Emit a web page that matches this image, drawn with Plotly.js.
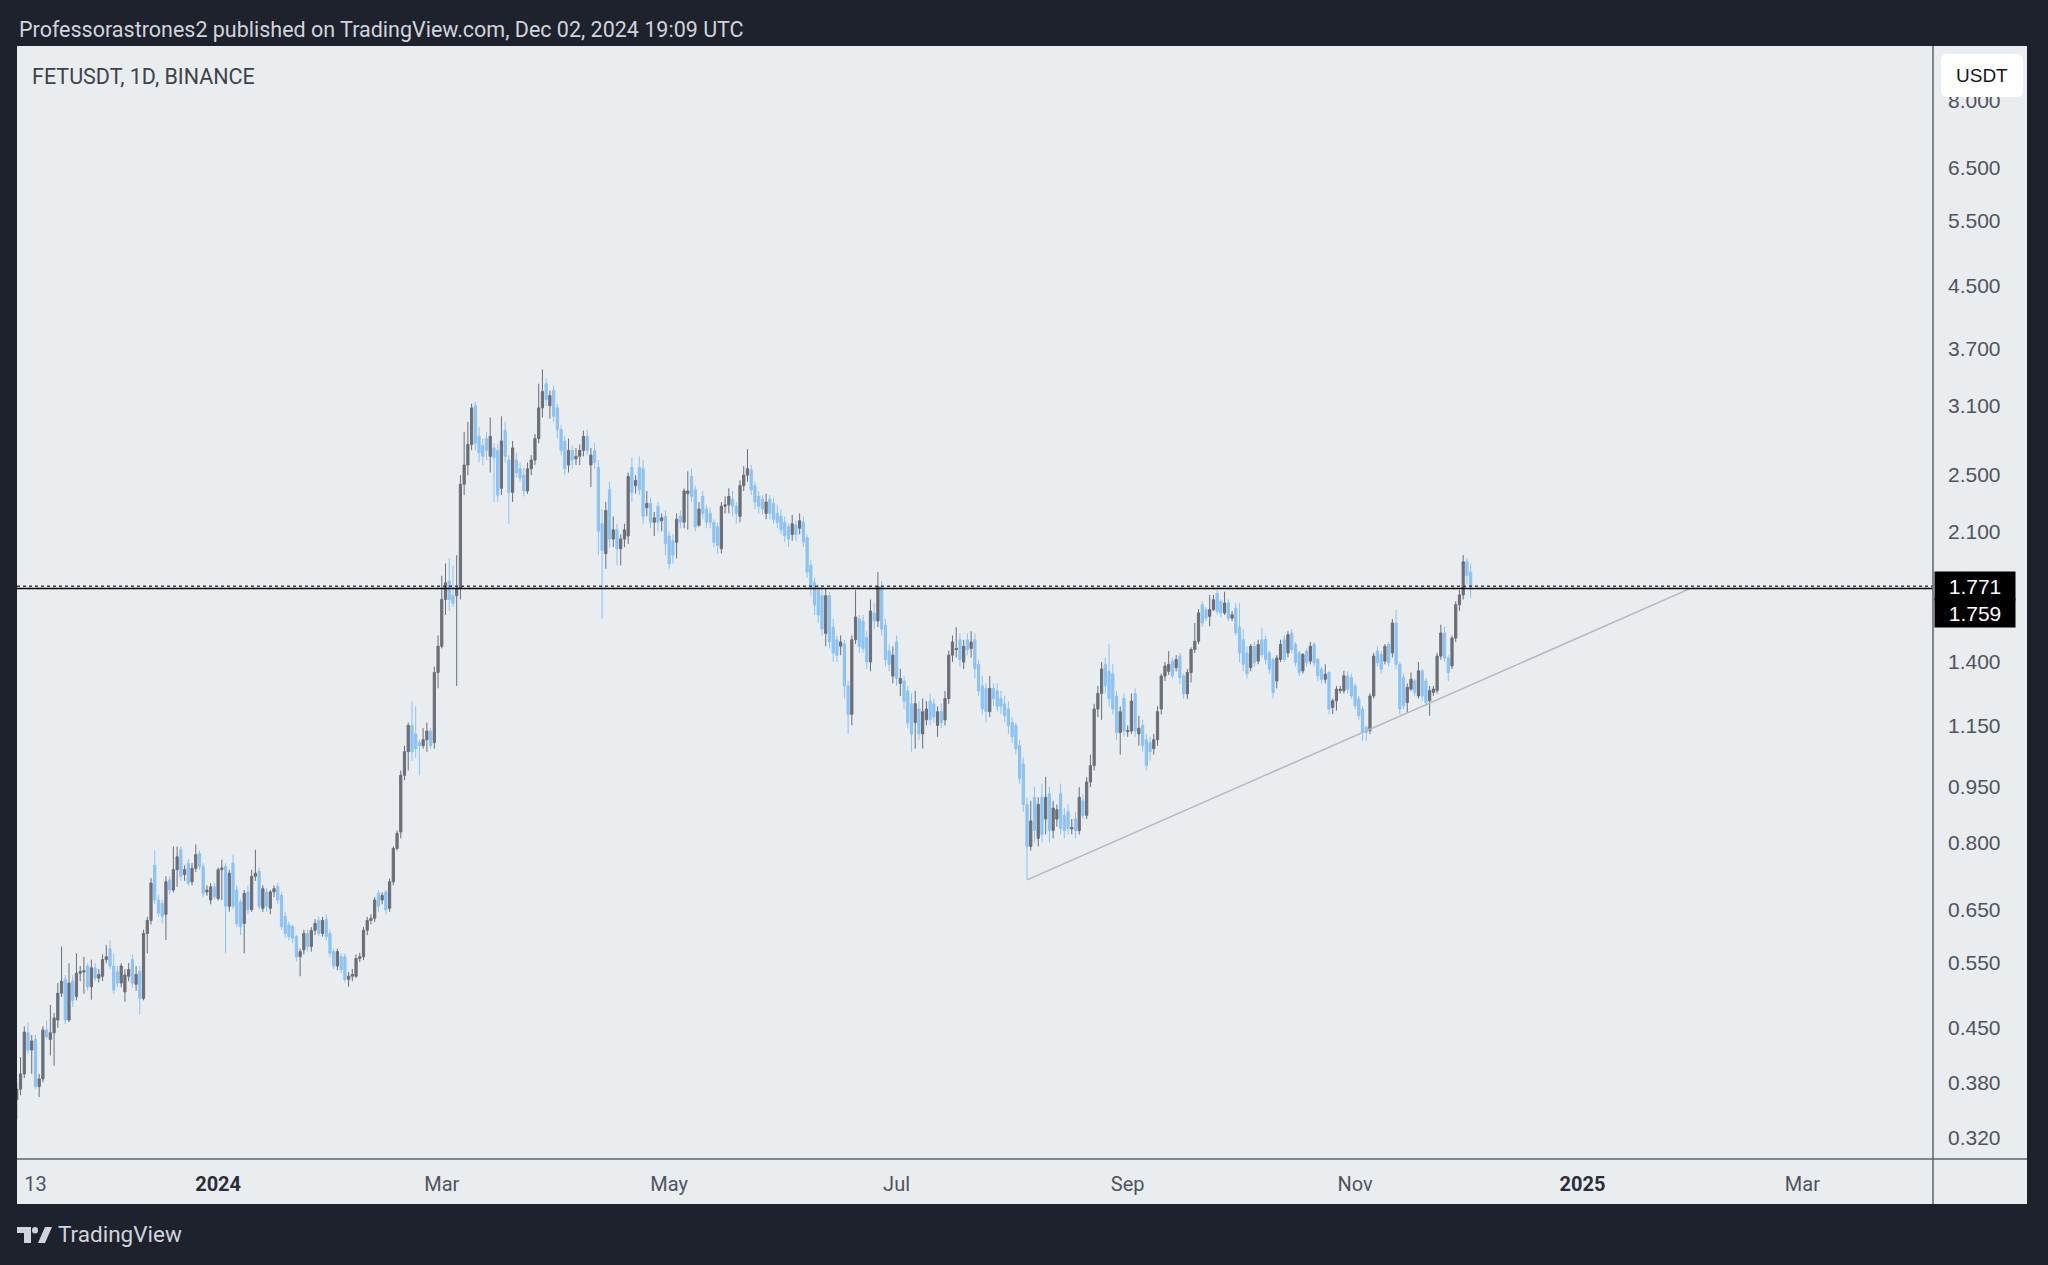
<!DOCTYPE html>
<html>
<head>
<meta charset="utf-8">
<script src="https://cdn.plot.ly/plotly-3.0.1.min.js"></script>
<style>
html,body{margin:0;padding:0;background:#1e222d;}
#chart{width:2048px;height:1265px;}
</style>
</head>
<body>
<div id="chart"></div>
<script>
// ---------------- DATA (FETUSDT, 1D, BINANCE) ----------------
// first candle date; one candle per day
const firstDay = [2023, 10, 8]; // 2023-11-08 (month 0-based)

const openP = [
 .360,.372,.390,.443,.420,.434,.375,.384,.447,.434,
 .443,.461,.501,.523,.461,.520,.496,.533,.535,.545,
 .511,.542,.525,.528,.556,.575,.545,.535,.517,.503,
 .528,.556,.515,.536,.493,.603,.628,.745,.669,.662,
 .640,.712,.690,.735,.782,.724,.750,.708,.738,.773,
 .742,.686,.669,.697,.672,.735,.742,.656,.750,.690,
 .665,.622,.686,.649,.720,.731,.652,.686,.652,.686,
 .697,.679,.636,.619,.616,.597,.561,.573,.603,.579,
 .609,.628,.603,.630,.603,.570,.545,.561,.561,.523,
 .528,.528,.558,.561,.609,.628,.632,.683,.669,.686,
 .652,.708,.785,.826,.985,1.06,1.15,1.12,1.09,1.08,
 1.10,1.13,1.09,1.355,1.47,1.70,1.80,1.72,1.72,1.76,
 2.43,2.58,2.75,3.10,2.82,2.74,2.80,2.65,2.72,2.70,
 2.40,2.87,2.62,2.37,2.62,2.55,2.50,2.38,2.55,2.62,
 2.80,3.08,3.32,3.10,3.25,3.08,2.88,2.78,2.58,2.70,
 2.63,2.65,2.70,2.82,2.58,2.70,2.56,2.15,1.96,2.39,
 2.05,2.11,1.99,2.05,2.07,2.56,2.42,2.56,2.55,2.26,
 2.29,2.16,2.27,2.17,2.20,2.07,2.04,2.03,2.20,2.16,
 2.36,2.49,2.39,2.14,2.34,2.25,2.22,2.16,2.13,1.99,
 2.27,2.28,2.32,2.27,2.20,2.42,2.50,2.54,2.42,2.34,
 2.32,2.22,2.32,2.29,2.22,2.20,2.16,2.13,2.08,2.14,
 2.12,2.16,2.06,1.89,1.79,1.75,1.72,1.53,1.72,1.56,
 1.50,1.47,1.48,1.30,1.19,1.50,1.60,1.59,1.51,1.40,
 1.63,1.59,1.77,1.57,1.45,1.34,1.49,1.31,1.32,1.28,
 1.23,1.16,1.21,1.12,1.17,1.24,1.23,1.15,1.20,1.17,
 1.25,1.43,1.455,1.50,1.40,1.50,1.46,1.50,1.39,1.30,
 1.29,1.20,1.29,1.28,1.25,1.23,1.21,1.16,1.15,1.08,
 1.02,.90,.79,.92,.81,.92,.86,.93,.83,.86,
 .93,.87,.88,.834,.86,.83,.91,.87,.965,1.015,
 1.21,1.27,1.39,1.36,1.35,1.26,1.125,1.25,1.128,1.13,
 1.27,1.12,1.15,1.10,1.09,1.07,1.10,1.21,1.34,1.36,
 1.404,1.376,1.426,1.341,1.268,1.355,1.455,1.493,1.672,1.647,
 1.613,1.647,1.733,1.689,1.63,1.681,1.604,1.655,1.56,1.50,
 1.44,1.376,1.47,1.404,1.50,1.501,1.44,1.411,1.32,1.411,
 1.501,1.44,1.532,1.478,1.44,1.362,1.448,1.404,1.478,1.411,
 1.369,1.327,1.355,1.216,1.241,1.281,1.281,1.341,1.334,1.30,
 1.248,1.21,1.143,1.131,1.26,1.448,1.433,1.404,1.478,1.44,
 1.58,1.39,1.334,1.235,1.287,1.32,1.26,1.362,1.32,1.241,
 1.274,1.281,1.426,1.532,1.418,1.383,1.508,1.672,1.724,1.911,
 1.85
];
const highP = [
 .380,.411,.452,.458,.440,.440,.390,.452,.460,.483,
 .471,.517,.579,.530,.550,.530,.567,.545,.561,.550,
 .556,.550,.540,.565,.582,.590,.567,.545,.550,.540,
 .550,.565,.545,.545,.610,.635,.716,.780,.680,.670,
 .720,.720,.790,.790,.790,.745,.760,.750,.795,.780,
 .750,.700,.705,.705,.740,.758,.750,.735,.770,.700,
 .670,.690,.700,.735,.782,.740,.700,.695,.690,.700,
 .705,.685,.645,.625,.620,.600,.575,.610,.610,.615,
 .630,.635,.635,.640,.610,.575,.575,.567,.567,.535,
 .540,.565,.568,.615,.635,.640,.675,.690,.685,.690,
 .715,.790,.830,1.00,1.08,1.16,1.24,1.22,1.10,1.14,
 1.16,1.14,1.38,1.52,1.83,1.90,1.93,1.89,1.95,2.50,
 2.86,2.95,3.12,3.14,2.90,2.80,2.86,2.99,2.76,2.75,
 3.00,2.95,2.66,2.78,2.68,2.60,2.56,2.60,2.66,2.84,
 3.32,3.47,3.38,3.25,3.30,3.12,2.92,2.82,2.80,2.74,
 2.72,2.75,2.87,2.88,2.72,2.76,2.62,2.25,2.30,2.45,
 2.20,2.15,2.08,2.15,2.52,2.64,2.50,2.65,2.62,2.38,
 2.33,2.23,2.30,2.22,2.24,2.10,2.08,2.22,2.24,2.40,
 2.53,2.55,2.42,2.30,2.38,2.28,2.26,2.18,2.16,2.30,
 2.34,2.40,2.38,2.30,2.46,2.57,2.71,2.58,2.45,2.38,
 2.35,2.36,2.35,2.33,2.28,2.25,2.20,2.15,2.21,2.17,
 2.22,2.20,2.08,1.92,1.82,1.78,1.76,1.76,1.74,1.60,
 1.52,1.52,1.50,1.32,1.52,1.75,1.62,1.62,1.54,1.70,
 1.68,1.85,1.80,1.60,1.48,1.47,1.52,1.37,1.34,1.30,
 1.27,1.28,1.24,1.25,1.24,1.27,1.25,1.22,1.23,1.28,
 1.45,1.52,1.56,1.53,1.50,1.53,1.54,1.53,1.41,1.34,
 1.31,1.34,1.31,1.31,1.28,1.26,1.24,1.18,1.16,1.10,
 1.04,.92,.91,.95,.92,.96,.98,.95,.91,.90,
 .96,.89,.90,.86,.88,.95,.93,.98,1.05,1.23,
 1.30,1.40,1.42,1.48,1.39,1.28,1.22,1.27,1.15,1.27,
 1.29,1.185,1.17,1.12,1.11,1.12,1.22,1.35,1.40,1.448,
 1.42,1.43,1.44,1.35,1.37,1.465,1.58,1.65,1.69,1.66,
 1.724,1.724,1.75,1.70,1.741,1.70,1.64,1.681,1.68,1.55,
 1.47,1.48,1.49,1.50,1.556,1.52,1.45,1.42,1.43,1.50,
 1.52,1.54,1.55,1.49,1.45,1.44,1.46,1.49,1.49,1.42,
 1.38,1.39,1.36,1.25,1.30,1.30,1.362,1.36,1.35,1.31,
 1.26,1.22,1.15,1.27,1.44,1.47,1.45,1.48,1.49,1.60,
 1.647,1.40,1.35,1.31,1.355,1.33,1.40,1.37,1.33,1.30,
 1.30,1.44,1.572,1.564,1.43,1.52,1.69,1.75,1.951,1.93,
 1.90
];
const lowP = [
 .339,.365,.385,.415,.390,.372,.363,.380,.435,.413,
 .400,.450,.495,.455,.458,.480,.490,.520,.500,.505,
 .491,.520,.518,.520,.550,.540,.500,.510,.510,.488,
 .520,.510,.505,.469,.490,.567,.620,.660,.635,.622,
 .591,.680,.685,.697,.710,.710,.700,.700,.730,.735,
 .675,.678,.660,.670,.668,.669,.567,.645,.650,.615,
 .600,.567,.640,.645,.710,.650,.645,.645,.640,.675,
 .660,.610,.595,.590,.585,.553,.528,.565,.570,.570,
 .600,.598,.597,.590,.560,.540,.538,.533,.518,.511,
 .520,.525,.552,.555,.600,.620,.625,.645,.660,.640,
 .645,.700,.780,.810,.970,1.00,1.03,1.04,.985,1.07,
 1.06,1.07,1.07,1.29,1.46,1.62,1.64,1.66,1.30,1.70,
 2.35,2.50,2.70,2.70,2.60,2.58,2.62,2.52,2.30,2.30,
 2.35,2.60,2.15,2.30,2.48,2.45,2.34,2.36,2.50,2.58,
 2.76,2.99,3.10,2.98,2.95,2.80,2.66,2.50,2.52,2.55,
 2.58,2.58,2.65,2.66,2.41,2.55,1.95,1.60,1.87,2.00,
 2.00,1.89,1.89,2.00,2.02,2.30,2.36,2.35,2.15,2.20,
 2.12,2.07,2.10,2.10,1.95,1.87,1.90,1.93,2.12,2.12,
 2.11,2.30,2.10,2.13,2.18,2.12,2.12,2.00,1.96,1.96,
 2.22,2.22,2.20,2.15,2.16,2.38,2.45,2.35,2.25,2.22,
 2.21,2.18,2.18,2.15,2.12,2.08,2.03,2.00,2.04,2.04,
 2.08,2.00,1.82,1.72,1.62,1.58,1.52,1.47,1.46,1.40,
 1.40,1.43,1.25,1.12,1.15,1.48,1.44,1.44,1.37,1.36,
 1.55,1.56,1.52,1.38,1.36,1.31,1.30,1.26,1.21,1.14,
 1.06,1.07,1.10,1.07,1.15,1.15,1.16,1.11,1.14,1.15,
 1.23,1.40,1.42,1.38,1.37,1.43,1.42,1.33,1.26,1.19,
 1.16,1.18,1.22,1.20,1.19,1.16,1.12,1.09,1.05,.96,
 .88,.712,.78,.80,.79,.80,.82,.80,.81,.84,
 .82,.81,.82,.82,.81,.82,.86,.86,.95,1.00,
 1.18,1.17,1.27,1.22,1.19,1.10,1.05,1.11,1.11,1.12,
 1.11,1.08,1.06,1.00,1.03,1.05,1.08,1.19,1.32,1.345,
 1.33,1.36,1.307,1.248,1.248,1.314,1.44,1.48,1.56,1.59,
 1.564,1.64,1.62,1.61,1.62,1.59,1.59,1.52,1.40,1.36,
 1.33,1.36,1.38,1.39,1.42,1.39,1.35,1.25,1.29,1.40,
 1.40,1.42,1.44,1.38,1.34,1.35,1.38,1.39,1.38,1.32,
 1.31,1.31,1.19,1.191,1.204,1.27,1.27,1.27,1.25,1.21,
 1.17,1.096,1.096,1.12,1.25,1.38,1.35,1.39,1.38,1.42,
 1.37,1.19,1.21,1.197,1.28,1.26,1.25,1.24,1.22,1.185,
 1.26,1.27,1.41,1.40,1.32,1.37,1.49,1.64,1.70,1.78,
 1.707
];
const closeP = [
 .372,.390,.444,.420,.432,.375,.384,.447,.438,.443,
 .464,.501,.520,.461,.517,.490,.533,.536,.537,.511,
 .542,.525,.531,.556,.561,.545,.506,.517,.545,.530,
 .539,.517,.531,.493,.603,.628,.705,.669,.642,.636,
 .708,.690,.735,.765,.720,.735,.705,.738,.770,.742,
 .683,.690,.697,.676,.735,.739,.656,.727,.656,.622,
 .616,.683,.649,.720,.727,.656,.693,.656,.686,.693,
 .669,.616,.603,.597,.594,.561,.570,.603,.579,.609,
 .622,.603,.628,.597,.567,.545,.570,.539,.523,.528,
 .531,.558,.561,.609,.628,.632,.669,.656,.679,.649,
 .708,.785,.823,.985,1.06,1.15,1.06,1.07,1.08,1.10,
 1.13,1.08,1.355,1.47,1.70,1.79,1.70,1.68,1.76,2.43,
 2.58,2.75,3.08,2.76,2.68,2.65,2.70,2.82,2.64,2.35,
 2.78,2.65,2.37,2.72,2.52,2.48,2.38,2.55,2.62,2.80,
 3.08,3.24,3.16,3.20,3.00,2.88,2.70,2.55,2.70,2.62,
 2.65,2.70,2.82,2.70,2.66,2.60,2.10,1.98,2.24,2.05,
 2.11,1.99,2.05,2.11,2.49,2.37,2.46,2.39,2.20,2.29,
 2.16,2.19,2.16,2.19,2.02,1.90,1.95,2.18,2.16,2.38,
 2.38,2.34,2.13,2.25,2.22,2.16,2.16,2.03,2.01,2.27,
 2.28,2.34,2.27,2.22,2.42,2.50,2.55,2.39,2.30,2.27,
 2.25,2.30,2.22,2.18,2.16,2.11,2.07,2.05,2.15,2.08,
 2.17,2.03,1.85,1.76,1.67,1.62,1.55,1.72,1.49,1.44,
 1.43,1.49,1.30,1.19,1.50,1.61,1.47,1.46,1.40,1.64,
 1.59,1.77,1.55,1.41,1.39,1.43,1.33,1.33,1.24,1.16,
 1.12,1.23,1.12,1.20,1.21,1.17,1.18,1.20,1.16,1.25,
 1.43,1.49,1.46,1.41,1.47,1.455,1.49,1.37,1.28,1.21,
 1.20,1.29,1.25,1.22,1.22,1.185,1.15,1.11,1.07,.975,
 .90,.79,.855,.83,.90,.82,.92,.83,.89,.885,
 .835,.83,.835,.838,.83,.92,.87,.965,1.015,1.21,
 1.27,1.37,1.30,1.25,1.21,1.125,1.20,1.13,1.132,1.24,
 1.13,1.14,1.08,1.015,1.06,1.10,1.20,1.34,1.383,1.39,
 1.341,1.411,1.334,1.268,1.355,1.455,1.493,1.63,1.58,1.604,
 1.647,1.698,1.638,1.63,1.681,1.604,1.621,1.532,1.44,1.39,
 1.35,1.47,1.397,1.478,1.433,1.411,1.369,1.274,1.418,1.478,
 1.411,1.524,1.455,1.397,1.355,1.433,1.397,1.47,1.397,1.341,
 1.327,1.348,1.21,1.241,1.287,1.287,1.341,1.287,1.26,1.222,
 1.185,1.125,1.125,1.26,1.426,1.397,1.369,1.47,1.397,1.58,
 1.39,1.21,1.222,1.294,1.327,1.274,1.362,1.26,1.235,1.281,
 1.287,1.426,1.532,1.418,1.355,1.508,1.672,1.724,1.911,1.83,
 1.771
];

// trend line drawn on the chart (anchor points)
const trendDates = ['2024-08-05', '2025-01-30'];
const trendPrices = [0.712, 1.759];
// horizontal levels
const lastPrice = 1.771;   // dotted last-price line
const levelPrice = 1.759;  // solid drawn level

// axis ticks
const yTickVals = [0.32, 0.38, 0.45, 0.55, 0.65, 0.80, 0.95, 1.15, 1.40, 2.10, 2.50, 3.10, 3.70, 4.50, 5.50, 6.50, 8.00];
const xTickDates = ['2023-11-13','2024-01-01','2024-03-01','2024-05-01','2024-07-01','2024-09-01','2024-11-01','2025-01-01','2025-03-01'];
const xTickLabels = ['13','2024','Mar','May','Jul','Sep','Nov','2025','Mar'];
const boldLabels = ['2024','2025'];

// texts
const headerText = 'Professorastrones2 published on TradingView.com, Dec 02, 2024 19:09 UTC';
const symbolText = 'FETUSDT, 1D, BINANCE';
const currencyText = 'USDT';
const brandText = 'TradingView';

// ---------------- BUILD ----------------
const DAY = 86400000;
const t0 = Date.UTC(firstDay[0], firstDay[1], firstDay[2]);
const fmt = t => new Date(t).toISOString().replace('T', ' ').replace('Z', '');
const dates = closeP.map((_, i) => fmt(t0 + i * DAY).slice(0, 10));

// geometry (pixels)
const W = 2048, H = 1265;
const PL = 17, PR = 1933, PT = 46, PB = 1159;   // plot area
const PANEL_R = 2027, PANEL_B = 1204;            // light panel extents
const px = X => (X - PL) / (PR - PL);
const py = Y => (PB - Y) / (PB - PT);

const jan1 = Date.UTC(2024, 0, 1);
const xRange = [fmt(jan1 - 53.95 * DAY), fmt(jan1 + 460.03 * DAY)];
const yRange = [Math.log10(0.2995), Math.log10(9.467)];

const BG = '#1e222d';
const PANEL = '#e9edf0';
const UP = '#6b6e77';
const DOWN = '#8cc2f4';

const candles = {
  type: 'candlestick',
  x: dates, open: openP, high: highP, low: lowP, close: closeP,
  increasing: {line: {color: UP, width: 1}, fillcolor: UP},
  decreasing: {line: {color: DOWN, width: 1}, fillcolor: DOWN},
  whiskerwidth: 0,
  hoverinfo: 'skip',
  showlegend: false
};

const trend = {
  type: 'scatter', mode: 'lines',
  x: trendDates, y: trendPrices,
  line: {color: '#b4b7be', width: 1.5},
  hoverinfo: 'skip', showlegend: false
};

const lastLine = {
  type: 'scatter', mode: 'lines',
  x: xRange, y: [lastPrice, lastPrice],
  line: {color: '#3a3d46', width: 1.5, dash: 'dot'},
  hoverinfo: 'skip', showlegend: false
};
const levelLine = {
  type: 'scatter', mode: 'lines',
  x: xRange, y: [levelPrice, levelPrice],
  line: {color: '#000000', width: 1.5},
  hoverinfo: 'skip', showlegend: false
};

function roundRectPath(x0, y0, x1, y1, r) {
  const P = (X, Y) => px(X).toFixed(6) + ',' + py(Y).toFixed(6);
  return 'M' + P(x0 + r, y0) + ' L' + P(x1 - r, y0) + ' Q' + P(x1, y0) + ' ' + P(x1, y0 + r) +
    ' L' + P(x1, y1 - r) + ' Q' + P(x1, y1) + ' ' + P(x1 - r, y1) +
    ' L' + P(x0 + r, y1) + ' Q' + P(x0, y1) + ' ' + P(x0, y1 - r) +
    ' L' + P(x0, y0 + r) + ' Q' + P(x0, y0) + ' ' + P(x0 + r, y0) + ' Z';
}
function polyPath(pts) {
  return 'M' + pts.map(p => px(p[0]).toFixed(6) + ',' + py(p[1]).toFixed(6)).join(' L') + ' Z';
}

const shapes = [
  // light chart panel
  {type: 'rect', xref: 'paper', yref: 'paper', x0: 0, x1: px(PANEL_R), y0: py(PANEL_B), y1: 1,
   fillcolor: PANEL, line: {width: 0}, layer: 'below'},
  // price-axis separator
  {type: 'line', xref: 'paper', yref: 'paper', x0: 1, x1: 1, y0: py(PANEL_B), y1: 1,
   line: {color: '#5d606b', width: 1.5}, layer: 'above'},
  // time-axis line
  {type: 'line', xref: 'paper', yref: 'paper', x0: 0, x1: px(PANEL_R), y0: 0, y1: 0,
   line: {color: '#5d606b', width: 1.5}, layer: 'above'},
  // USDT badge
  {type: 'path', xref: 'paper', yref: 'paper', path: roundRectPath(1941, 54, 2023, 97, 6),
   fillcolor: '#ffffff', line: {width: 0}, layer: 'above'},
  // TradingView logo
  {type: 'path', xref: 'paper', yref: 'paper',
   path: polyPath([[17,1227],[31,1227],[31,1243],[24,1243],[24,1233],[17,1233]]),
   fillcolor: '#d1d4dc', line: {width: 0}, layer: 'above'},
  {type: 'circle', xref: 'paper', yref: 'paper', x0: px(32), x1: px(38), y0: py(1233.5), y1: py(1227),
   fillcolor: '#d1d4dc', line: {width: 0}, layer: 'above'},
  {type: 'path', xref: 'paper', yref: 'paper',
   path: polyPath([[38,1243],[45,1227],[52,1227],[45,1243]]),
   fillcolor: '#d1d4dc', line: {width: 0}, layer: 'above'}
];

const annotations = [
  {xref: 'paper', yref: 'paper', x: 0, y: py(29), xanchor: 'left', yanchor: 'middle',
   text: headerText, showarrow: false, font: {family: 'Roboto', size: 21.5, color: '#d1d4dc'}},
  {xref: 'paper', yref: 'paper', x: px(30), y: py(76), xanchor: 'left', yanchor: 'middle',
   text: symbolText, showarrow: false, font: {family: 'Roboto', size: 21.5, color: '#3f424b'}},
  {xref: 'paper', yref: 'paper', x: px(1982), y: py(75), xanchor: 'center', yanchor: 'middle',
   text: currencyText, showarrow: false, font: {family: 'Liberation Sans', size: 19, color: '#131722'}},
  {xref: 'paper', yref: 'paper', x: px(56), y: py(1234), xanchor: 'left', yanchor: 'middle',
   text: brandText, showarrow: false, font: {family: 'Roboto', size: 22.5, color: '#d1d4dc'}},
  {xref: 'paper', yref: 'y', x: px(1934), y: Math.log10(lastPrice), xanchor: 'left', yanchor: 'middle',
   text: lastPrice.toFixed(3), showarrow: false, bgcolor: '#000000', borderpad: 4, width: 72, height: 20,
   align: 'center', font: {family: 'Liberation Sans', size: 21, color: '#ffffff'}},
  {xref: 'paper', yref: 'y', x: px(1934), y: Math.log10(levelPrice), yshift: -25, xanchor: 'left', yanchor: 'middle',
   text: levelPrice.toFixed(3), showarrow: false, bgcolor: '#000000', borderpad: 4, width: 72, height: 20,
   align: 'center', font: {family: 'Liberation Sans', size: 21, color: '#ffffff'}}
];

const layout = {
  width: W, height: H,
  margin: {l: PL, r: W - PR, t: PT, b: H - PB, pad: 0},
  paper_bgcolor: BG,
  plot_bgcolor: PANEL,
  showlegend: false,
  dragmode: false,
  boxgap: 0.15,
  xaxis: {
    type: 'date', range: xRange, showgrid: false, zeroline: false, showline: false,
    ticks: '', tickvals: xTickDates,
    ticktext: xTickLabels.map(t => boldLabels.includes(t) ? '<b><span style="color:#2a2e39">' + t + '</span></b>' : t),
    tickfont: {family: 'Roboto', size: 20, color: '#50535e'},
    ticklabelstandoff: 11,
    rangeslider: {visible: false}, fixedrange: true
  },
  yaxis: {
    type: 'log', side: 'right', range: yRange, showgrid: false, zeroline: false, showline: false,
    ticks: '', tickvals: yTickVals, ticktext: yTickVals.map(v => v.toFixed(3)),
    tickfont: {family: 'Liberation Sans', size: 21, color: '#50535e'},
    ticklabelstandoff: 14, fixedrange: true
  },
  shapes: shapes,
  annotations: annotations
};

Plotly.newPlot('chart', [trend, candles, levelLine, lastLine], layout, {displayModeBar: false, staticPlot: true});
</script>
</body>
</html>
